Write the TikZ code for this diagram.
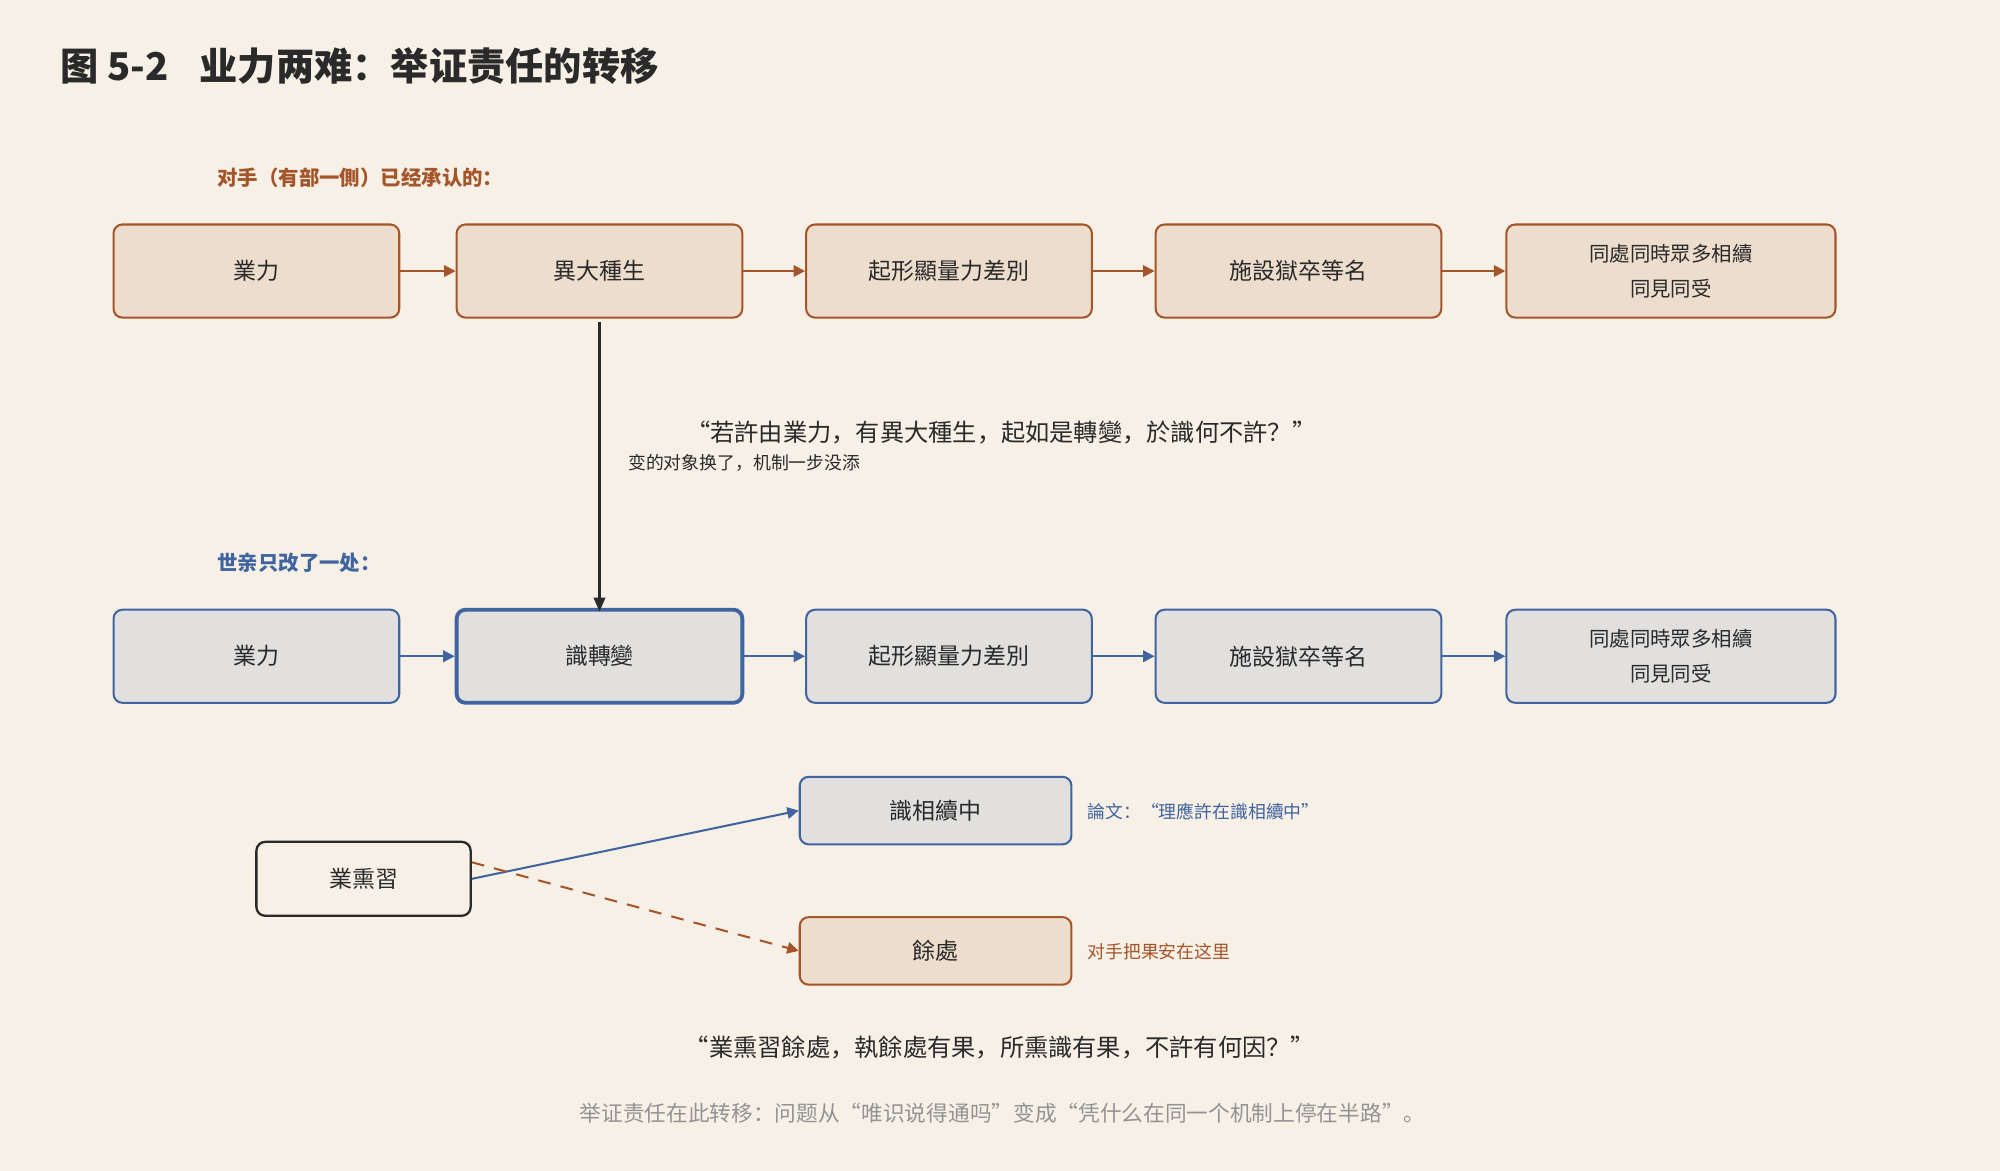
\documentclass[tikz,border=0pt]{standalone}
\usepackage{fontspec}
\setmainfont{Noto Sans CJK SC}
\usetikzlibrary{arrows.meta}
\definecolor{bg}{HTML}{F7F0E6}
\definecolor{ofill}{HTML}{EDDDCD}
\definecolor{ostroke}{HTML}{A5552A}
\definecolor{bfill}{HTML}{E1E0DE}
\definecolor{bstroke}{HTML}{4064A0}
\definecolor{ink}{HTML}{2A2A2A}
\begin{document}
\begin{tikzpicture}[x=1pt,y=-1pt,
 ob/.style={draw=ostroke,fill=ofill,line width=1.6pt,rounded corners=7pt,minimum height=73pt,text=ink,font=\fontsize{18}{22}\selectfont,align=center},
 bb/.style={draw=bstroke,fill=bfill,line width=1.6pt,rounded corners=7pt,minimum height=73pt,text=ink,font=\fontsize{18}{22}\selectfont,align=center},
 oa/.style={draw=ostroke,line width=1.6pt,-{Triangle[length=9pt,width=9pt]}},
 ba/.style={draw=bstroke,line width=1.6pt,-{Triangle[length=9pt,width=9pt]}}]
\fill[bg] (0,0) rectangle (1568,918);
\node[anchor=west,font=\bfseries\fontsize{30}{34}\selectfont,text=ink] (title) at (44,52) {图 5-2\hspace{0.8em}业力两难：举证责任的转移};
\node[anchor=west,font=\bfseries\fontsize{16}{20}\selectfont,text=ostroke] (l1) at (167,139) {对手（有部一側）已经承认的：};
\node[anchor=west,font=\bfseries\fontsize{16}{20}\selectfont,text=bstroke] (l2) at (167,441) {世亲只改了一处：};
% top row
\node[ob,minimum width=224pt] (a1) at (201,212.5) {業力};
\node[ob,minimum width=224pt] (a2) at (470,212.5) {異大種生};
\node[ob,minimum width=224pt] (a3) at (744,212.5) {起形顯量力差別};
\node[ob,minimum width=224pt] (a4) at (1018,212.5) {施設獄卒等名};
\node[ob,minimum width=258pt,font=\fontsize{16}{27}\selectfont] (a5) at (1310,212.5) {同處同時眾多相續\\同見同受};
\draw[oa] (a1) -- (a2); \draw[oa] (a2) -- (a3); \draw[oa] (a3) -- (a4); \draw[oa] (a4) -- (a5);
% bottom row
\node[bb,minimum width=224pt] (b1) at (201,514.5) {業力};
\node[bb,minimum width=224pt,line width=3pt] (b2) at (470,514.5) {識轉變};
\node[bb,minimum width=224pt] (b3) at (744,514.5) {起形顯量力差別};
\node[bb,minimum width=224pt] (b4) at (1018,514.5) {施設獄卒等名};
\node[bb,minimum width=258pt,font=\fontsize{16}{27}\selectfont] (b5) at (1310,514.5) {同處同時眾多相續\\同見同受};
\draw[ba] (b1) -- (b2); \draw[ba] (b2) -- (b3); \draw[ba] (b3) -- (b4); \draw[ba] (b4) -- (b5);
\draw[ink,line width=1.8pt,-{Triangle[length=11pt,width=9pt]}] (a2.south) ++(0,3) coordinate (s) (s) -- ([yshift=-3pt]b2.north);
\node[font=\fontsize{19}{23}\selectfont,text=ink] (q1) at (785,339) {“若許由業力，有異大種生，起如是轉變，於識何不許？”};
\node[anchor=west,font=\fontsize{14}{17}\selectfont,text=ink] (q1s) at (489,363) {变的对象换了，机制一步没添};
% lower part
\node[bb,minimum width=213pt,minimum height=53pt] (c1) at (733.5,635.5) {識相續中};
\node[ob,minimum width=213pt,minimum height=53pt] (c2) at (733.5,745.5) {餘處};
\node[draw=ink,fill=bg,line width=1.8pt,rounded corners=7pt,minimum width=168pt,minimum height=58pt,font=\fontsize{18}{22}\selectfont,text=ink] (k) at (285,689) {業熏習};
\draw[ba] (k.east) -- (c1.west);
\draw[oa,dashed,dash pattern=on 10pt off 8pt] ([yshift=13pt]k.east) -- (c2.west);
\node[anchor=west,font=\fontsize{14}{17}\selectfont,text=bstroke] (n1) at (849,636) {論文：“理應許在識相續中”};
\node[anchor=west,font=\fontsize{14}{17}\selectfont,text=ostroke] (n2) at (849,746) {对手把果安在这里};
\node[font=\fontsize{19}{23}\selectfont,text=ink] (q2) at (784,821) {“業熏習餘處，執餘處有果，所熏識有果，不許有何因？”};
\node[font=\fontsize{17}{21}\selectfont,text=gray!85] (f) at (786,873) {举证责任在此转移：问题从“唯识说得通吗”变成“凭什么在同一个机制上停在半路”。};
\end{tikzpicture}
\end{document}
